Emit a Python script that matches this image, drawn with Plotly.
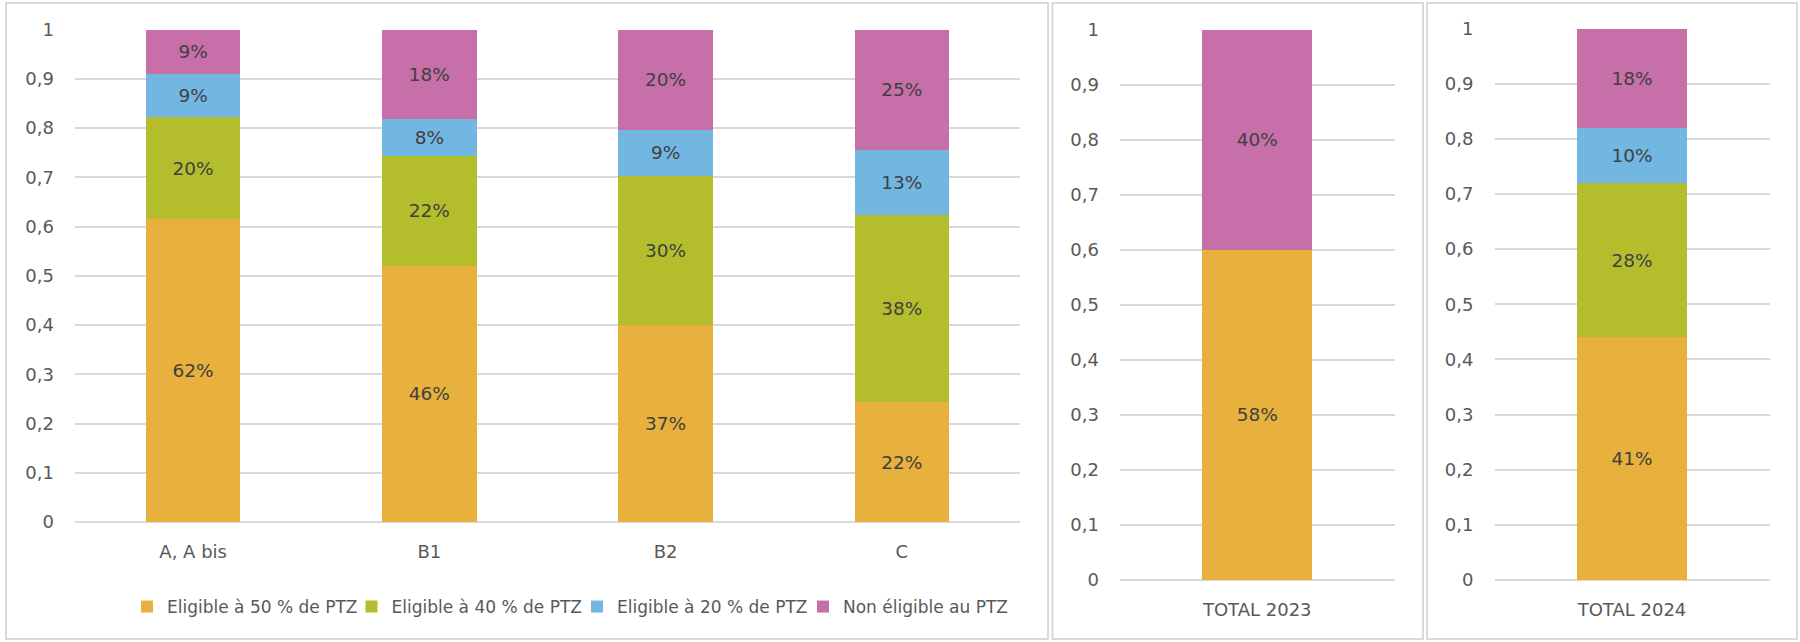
import plotly.graph_objects as go

W, H = 1800, 642

# ---------------- data ----------------
regions = ["A, A bis", "B1", "B2", "C"]
series_names = ["Eligible à 50 % de PTZ", "Eligible à 40 % de PTZ",
                "Eligible à 20 % de PTZ", "Non éligible au PTZ"]
colors = ["#E8B03C", "#B4BE2D", "#72B7E1", "#C76FA8"]

# bar heights by zone
zone_50 = [0.615, 0.521, 0.400, 0.243]
zone_40 = [0.207, 0.223, 0.303, 0.381]
zone_20 = [0.089, 0.075, 0.094, 0.132]
zone_non = [0.089, 0.181, 0.203, 0.244]
# data labels shown on the bars
zone_50_lbl = ["62%", "46%", "37%", "22%"]
zone_40_lbl = ["20%", "22%", "30%", "38%"]
zone_20_lbl = ["9%", "8%", "9%", "13%"]
zone_non_lbl = ["9%", "18%", "20%", "25%"]

cat_2023 = ["TOTAL 2023"]
tot23_50 = [0.60]
tot23_non = [0.40]
tot23_50_lbl = ["58%"]
tot23_non_lbl = ["40%"]

cat_2024 = ["TOTAL 2024"]
tot24_50 = [0.44]
tot24_40 = [0.28]
tot24_20 = [0.10]
tot24_non = [0.18]
tot24_50_lbl = ["41%"]
tot24_40_lbl = ["28%"]
tot24_20_lbl = ["10%"]
tot24_non_lbl = ["18%"]

y_ticks = [0, 0.1, 0.2, 0.3, 0.4, 0.5, 0.6, 0.7, 0.8, 0.9, 1]
y_tick_labels = ["0", "0,1", "0,2", "0,3", "0,4", "0,5", "0,6", "0,7", "0,8", "0,9", "1"]

# ---------------- figure ----------------
FONT = "DejaVu Sans"
LBL_COLOR = "#404040"
AX_COLOR = "#595959"
GRID = "#D9D9D9"
FS = 18

fig = go.Figure()

legend_ids = ["legend", "legend2", "legend3", "legend4"]


def add_bar(x, y, text, idx, xa, ya, legend):
    fig.add_trace(go.Bar(
        x=x, y=y, text=text, name=series_names[idx],
        marker=dict(color=colors[idx], line=dict(width=0)),
        textposition="inside", insidetextanchor="middle", textangle=0,
        constraintext="none",
        textfont=dict(family=FONT, size=18.5, color=LBL_COLOR),
        xaxis=xa, yaxis=ya, showlegend=legend, legend=legend_ids[idx],
        hoverinfo="skip",
    ))


for i, (vals, lbls) in enumerate([(zone_50, zone_50_lbl), (zone_40, zone_40_lbl),
                                  (zone_20, zone_20_lbl), (zone_non, zone_non_lbl)]):
    add_bar(regions, vals, lbls, i, "x", "y", True)

add_bar(cat_2023, tot23_50, tot23_50_lbl, 0, "x2", "y2", False)
add_bar(cat_2023, tot23_non, tot23_non_lbl, 3, "x2", "y2", False)

for i, (vals, lbls) in enumerate([(tot24_50, tot24_50_lbl), (tot24_40, tot24_40_lbl),
                                  (tot24_20, tot24_20_lbl), (tot24_non, tot24_non_lbl)]):
    add_bar(cat_2024, vals, lbls, i, "x3", "y3", False)


def px_x(p):
    return p / W


def px_y(p):
    return 1 - p / H


xa_common = dict(showgrid=False, showline=False, zeroline=False, ticks="",
                 tickfont=dict(family=FONT, size=FS, color=AX_COLOR),
                 ticklabelstandoff=17, fixedrange=True, automargin=False)
ya_common = dict(range=[0, 1], tickvals=y_ticks, ticktext=y_tick_labels,
                 showgrid=True, gridcolor=GRID, gridwidth=1.5,
                 zeroline=True, zerolinecolor=GRID, zerolinewidth=1.5,
                 showline=False, ticks="",
                 tickfont=dict(family=FONT, size=FS, color=AX_COLOR),
                 ticklabelstandoff=20, fixedrange=True, automargin=False)

legend_common = dict(orientation="h", xanchor="left", yanchor="middle",
                     y=px_y(607), font=dict(family=FONT, size=17, color=AX_COLOR),
                     bgcolor="rgba(0,0,0,0)", borderwidth=0)
legend_marker_left = [141, 365.5, 591, 817]

layout_legends = {}
for lid, mx in zip(legend_ids, legend_marker_left):
    layout_legends[lid] = dict(x=px_x(mx - 14), **legend_common)

fig.update_layout(
    width=W, height=H,
    margin=dict(l=0, r=0, t=0, b=0, pad=0, autoexpand=False),
    paper_bgcolor="white", plot_bgcolor="white",
    barmode="stack", bargap=0.6,
    font=dict(family=FONT, size=FS, color=AX_COLOR),
    xaxis=dict(domain=[px_x(75), px_x(1020)], anchor="y", **xa_common),
    yaxis=dict(domain=[px_y(522), px_y(29.7)], anchor="x", **ya_common),
    xaxis2=dict(domain=[px_x(1120), px_x(1394.5)], anchor="y2", **xa_common),
    yaxis2=dict(domain=[px_y(580), px_y(29.5)], anchor="x2", **ya_common),
    xaxis3=dict(domain=[px_x(1494.5), px_x(1769.5)], anchor="y3", **xa_common),
    yaxis3=dict(domain=[px_y(580), px_y(28.5)], anchor="x3", **ya_common),
    showlegend=True,
    **layout_legends,
)

# panel frames
for x0, x1 in [(6, 1048), (1052.5, 1423), (1427, 1797)]:
    fig.add_shape(type="rect", xref="paper", yref="paper",
                  x0=px_x(x0), x1=px_x(x1), y0=px_y(639), y1=px_y(3),
                  line=dict(color=GRID, width=2), fillcolor="rgba(0,0,0,0)",
                  layer="below")

post = ("document.body.style.margin='0';document.body.style.padding='0';"
        "document.body.style.overflow='hidden';"
        "var d=document.getElementById('{plot_id}');"
        "d.style.position='absolute';d.style.left='0px';d.style.top='0px';")

fig.write_html("out.html", post_script=post, config={"displayModeBar": False})
